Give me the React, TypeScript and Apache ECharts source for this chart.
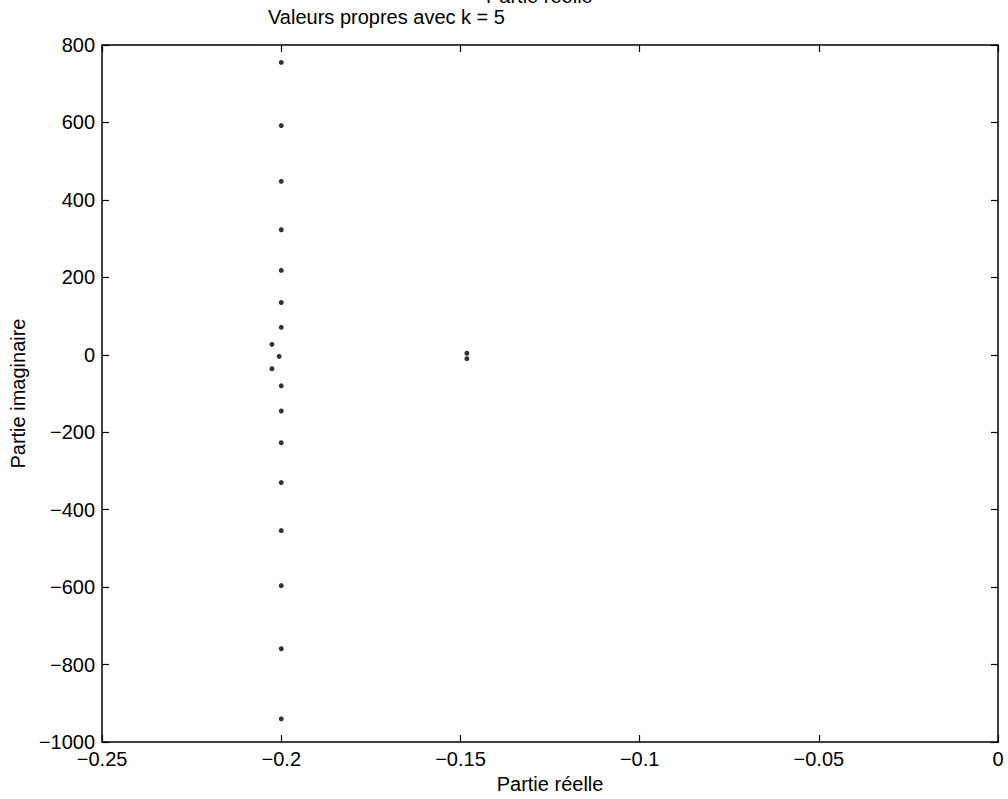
import React, { useEffect, useRef } from "react";
import * as echarts from "echarts";

const titleText = "Valeurs propres avec k = 5";
const xLabel = "Partie réelle";
const yLabel = "Partie imaginaire";
const xTicks = [-0.25, -0.2, -0.15, -0.1, -0.05, 0];
const yTicks = [-1000, -800, -600, -400, -200, 0, 200, 400, 600, 800];

// eigenvalues: [real part, imaginary part]
const mainColumnReal = [-0.2, -0.2, -0.2, -0.2, -0.2, -0.2, -0.2, -0.2026, -0.2006, -0.2026, -0.2, -0.2, -0.2, -0.2, -0.2, -0.2, -0.2, -0.2];
const mainColumnImag = [755, 592, 448, 323, 218, 135, 71, 27, -4, -36, -80, -145, -227, -330, -454, -596, -759, -940];
const isolatedReal = [-0.1482, -0.1482];
const isolatedImag = [4, -10];

const fmt = (v: number) => String(v).replace("-", "\u2212");

export default function App() {
  const ref = useRef<HTMLDivElement>(null);
  useEffect(() => {
    if (!ref.current) return;
    const chart = echarts.init(ref.current, null, { renderer: "svg" });
    const data: number[][] = [];
    mainColumnReal.forEach((r, i) => data.push([r, mainColumnImag[i]]));
    isolatedReal.forEach((r, i) => data.push([r, isolatedImag[i]]));
    const font = "Liberation Sans, Arial, Helvetica, sans-serif";
    const axisLine = { show: true, onZero: false, lineStyle: { color: "#000", width: 1.5 } };
    const tick = { show: true, inside: true, length: 7, lineStyle: { color: "#000", width: 1.2 } };
    chart.setOption({
      animation: false,
      backgroundColor: "#fff",
      grid: { left: 97, right: 10, top: 45, bottom: 56, containLabel: false },
      graphic: [
        {
          type: "text",
          left: 268,
          top: 7,
          style: { text: titleText, font: `20px ${font}`, fill: "#000" },
        },
        {
          type: "text",
          x: 486,
          y: 6,
          style: { text: xLabel, font: `20px ${font}`, fill: "#000", textVerticalAlign: "bottom" },
        },
      ],
      xAxis: [
        {
          type: "value",
          min: -0.25,
          max: 0,
          interval: 0.05,
          position: "bottom",
          name: xLabel,
          nameLocation: "middle",
          nameGap: 25,
          nameTextStyle: { color: "#000", fontSize: 20, fontFamily: font },
          axisLine,
          axisTick: tick,
          splitLine: { show: false },
          axisLabel: {
            color: "#000",
            fontSize: 20,
            fontFamily: font,
            margin: 7,
            formatter: (v: number) => {
              const m = xTicks.find((t) => Math.abs(t - v) < 1e-9);
              return m === undefined ? "" : fmt(m);
            },
          },
        },
        {
          type: "value",
          min: -0.25,
          max: 0,
          interval: 0.05,
          position: "top",
          axisLine,
          axisTick: tick,
          splitLine: { show: false },
          axisLabel: { show: false },
        },
      ],
      yAxis: [
        {
          type: "value",
          min: -1000,
          max: 800,
          interval: 200,
          position: "left",
          name: yLabel,
          nameLocation: "middle",
          nameGap: 70,
          nameRotate: 90,
          nameTextStyle: { color: "#000", fontSize: 20, fontFamily: font },
          axisLine,
          axisTick: tick,
          splitLine: { show: false },
          axisLabel: {
            color: "#000",
            fontSize: 20,
            fontFamily: font,
            margin: 7,
            formatter: (v: number) => {
              const m = yTicks.find((t) => t === v);
              return m === undefined ? "" : fmt(m);
            },
          },
        },
        {
          type: "value",
          min: -1000,
          max: 800,
          interval: 200,
          position: "right",
          axisLine,
          axisTick: tick,
          splitLine: { show: false },
          axisLabel: { show: false },
        },
      ],
      series: [
        {
          type: "scatter",
          xAxisIndex: 0,
          yAxisIndex: 0,
          data,
          symbol: "circle",
          symbolSize: 5,
          itemStyle: { color: "#000" },
        },
      ],
    });
    return () => chart.dispose();
  }, []);
  return (
    <div
      ref={ref}
      style={{ position: "fixed", left: 0, top: 0, width: 1008, height: 799, background: "#fff" }}
    />
  );
}
